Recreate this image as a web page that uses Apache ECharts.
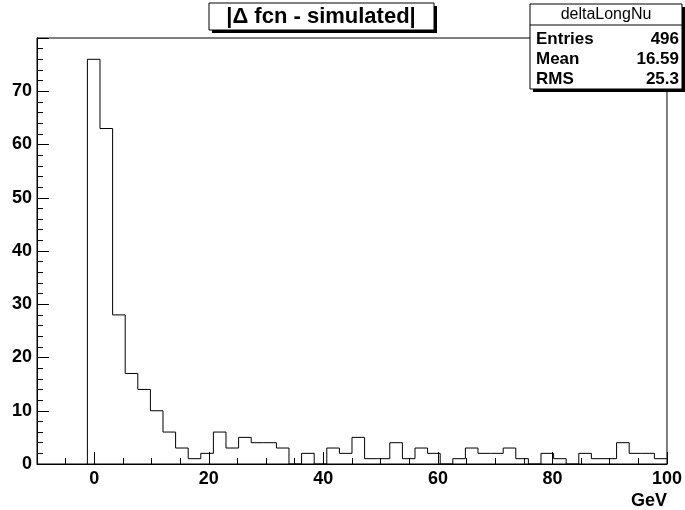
<!DOCTYPE html>
<html>
<head>
<meta charset="utf-8">
<script src="https://cdn.jsdelivr.net/npm/echarts@6/dist/echarts.min.js"></script>
<style>
  html, body { margin: 0; padding: 0; background: #fff; }
  #chart { width: 685px; height: 510px; }
</style>
</head>
<body>
<div id="chart"></div>
<script>
// histogram definition: 46 bins starting at binLow
var binLow = -1.2;
var binWidth = 2.2;
var counts = [
  76, 63, 28, 17, 14, 10, 6, 3, 1, 2,
  6, 3, 5, 4, 4, 3, 0, 2, 0, 3,
  2, 5, 1, 1, 4, 1, 3, 2, 0, 1,
  3, 2, 2, 3, 1, 0, 2, 1, 0, 2,
  1, 1, 4, 2, 2, 1
];
var xLabels = [0, 20, 40, 60, 80, 100];
var yLabels = [0, 10, 20, 30, 40, 50, 60, 70];
var statNames = ['Entries', 'Mean', 'RMS'];
var statValues = ['496', '16.59', '25.3'];

var FONT = "'Liberation Sans', Arial, Helvetica, sans-serif";

// step line through bin edges
var points = [[binLow, 0]];
counts.forEach(function (c, i) {
  points.push([binLow + i * binWidth, c]);
});
points.push([binLow + counts.length * binWidth, counts[counts.length - 1]]);

var statsText = [];
statNames.forEach(function (name, i) {
  var y = 39 + i * 20;
  statsText.push({
    type: 'text', z: 101,
    style: { text: name, x: 536, y: y, font: 'bold 17px ' + FONT, fill: '#000',
      textAlign: 'left', textVerticalAlign: 'middle' }
  });
  statsText.push({
    type: 'text', z: 101,
    style: { text: statValues[i], x: 679, y: y, font: 'bold 17px ' + FONT, fill: '#000',
      textAlign: 'right', textVerticalAlign: 'middle' }
  });
});

var chart = echarts.init(document.getElementById('chart'), null, { renderer: 'canvas' });

chart.setOption({
  backgroundColor: '#fff',
  animation: false,
  grid: {
    left: 37, right: 18, top: 38, bottom: 46,
    show: true, borderColor: '#000', borderWidth: 1, backgroundColor: '#fff'
  },
  xAxis: [
    {
      type: 'value', min: -10, max: 100, interval: 5, position: 'bottom',
      axisLine: { show: true, onZero: false, lineStyle: { color: '#000', width: 1 } },
      axisTick: { show: true, inside: true, length: 6, lineStyle: { color: '#000' } },
      axisLabel: {
        show: true, margin: 6, color: '#000', fontSize: 18, fontWeight: 'bold', fontFamily: FONT,
        customValues: xLabels
      },
      splitLine: { show: false },
      name: 'GeV', nameLocation: 'end', nameGap: 0,
      nameTextStyle: {
        color: '#000', fontSize: 18, fontWeight: 'bold', fontFamily: FONT,
        align: 'right', verticalAlign: 'top', padding: [28, 0, 0, 0]
      }
    },
    {
      type: 'value', min: -10, max: 100, interval: 5, position: 'bottom',
      axisLine: { show: false, onZero: false },
      axisTick: { show: true, inside: true, length: 12, lineStyle: { color: '#000' }, customValues: xLabels },
      axisLabel: { show: false },
      splitLine: { show: false }
    }
  ],
  yAxis: {
    type: 'value', min: 0, max: 80, interval: 10,
    axisLine: { show: true, onZero: false, lineStyle: { color: '#000', width: 1 } },
    axisTick: { show: true, inside: true, length: 12, lineStyle: { color: '#000' } },
    minorTick: { show: true, splitNumber: 5, length: 6, lineStyle: { color: '#000' } },
    axisLabel: {
      margin: 5, color: '#000', fontSize: 18, fontWeight: 'bold', fontFamily: FONT,
      formatter: function (v) { return yLabels.indexOf(v) >= 0 ? String(v) : ''; }
    },
    splitLine: { show: false }
  },
  series: [{
    type: 'line',
    step: 'end',
    data: points,
    symbol: 'none',
    lineStyle: { color: '#000', width: 1 },
    z: 3
  }],
  graphic: [
    // title box
    { type: 'rect', z: 100, shape: { x: 212, y: 6, width: 225, height: 27 }, style: { fill: '#000' } },
    { type: 'rect', z: 100, shape: { x: 209, y: 3, width: 225, height: 27 }, style: { fill: '#fff', stroke: '#000', lineWidth: 1 } },
    {
      type: 'text', z: 101,
      style: { text: '|\u0394 fcn - simulated|', x: 321, y: 17, font: 'bold 22px ' + FONT, fill: '#000',
        textAlign: 'center', textVerticalAlign: 'middle' }
    },
    // stats box
    { type: 'rect', z: 100, shape: { x: 533, y: 7, width: 152, height: 85 }, style: { fill: '#000' } },
    { type: 'rect', z: 100, shape: { x: 530, y: 4, width: 152, height: 85 }, style: { fill: '#fff', stroke: '#000', lineWidth: 1 } },
    { type: 'line', z: 101, shape: { x1: 530, y1: 25, x2: 682, y2: 25 }, style: { stroke: '#000', lineWidth: 1 } },
    {
      type: 'text', z: 101,
      style: { text: 'deltaLongNu', x: 606, y: 15, font: '16px ' + FONT, fill: '#000',
        textAlign: 'center', textVerticalAlign: 'middle' }
    }
  ].concat(statsText)
});
</script>
</body>
</html>
